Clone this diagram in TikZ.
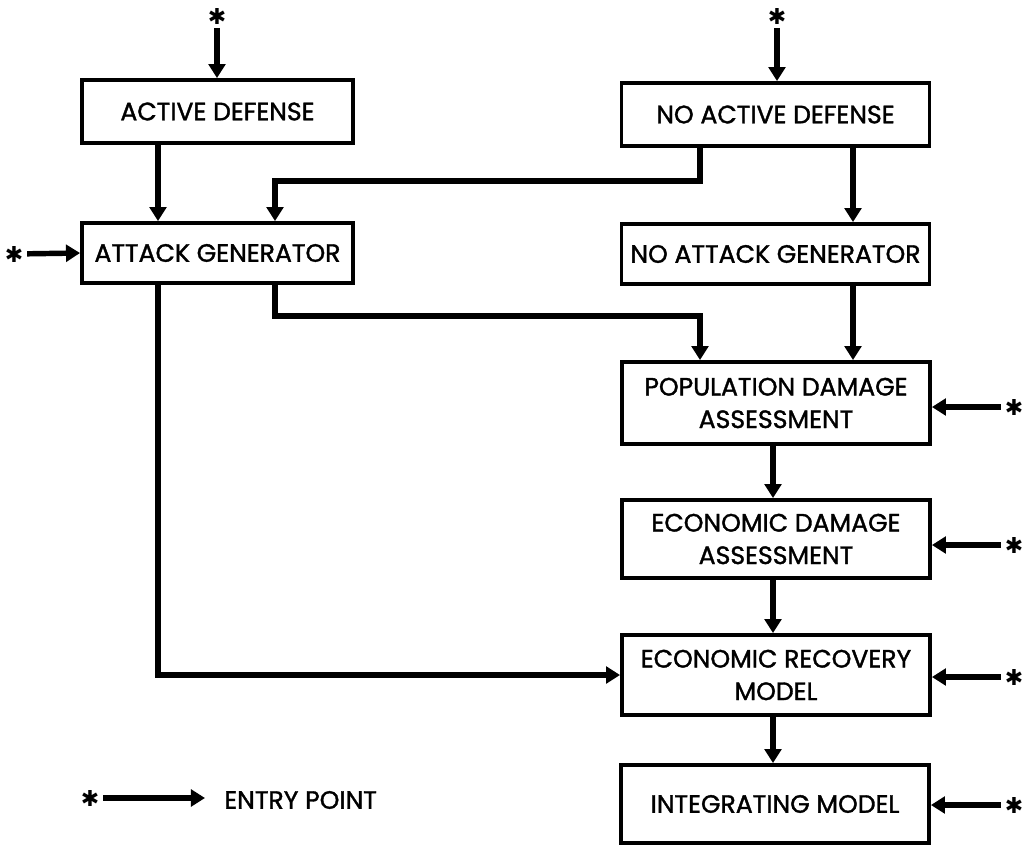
\documentclass[tikz,border=0pt]{standalone}
\usepackage{fontspec}
\setmainfont{Poppins}[FakeBold=1.4]
\newfontfamily\symfont{DejaVu Sans}
\usetikzlibrary{arrows.meta}
\begin{document}
\begin{tikzpicture}[x=0.02cm,y=-0.02cm,
  lab/.style={font=\fontsize{14.3}{18.5}\selectfont},
  blk/.style={draw,line width=2.2pt,minimum width=271*0.02cm,inner sep=0pt,
    lab,align=center},
  wide/.style={blk,minimum width=308*0.02cm},
  flow/.style={line width=3.1pt,-{Triangle[length=8pt,width=9.5pt]}},
  entry/.style={font=\symfont\fontsize{12.5}{12.5}\selectfont,inner sep=2pt}]
\useasboundingbox (0,0) rectangle (1022,846);

% boxes
\node[blk,minimum height=63*0.02cm] (ad) at (217.5,111.5) {ACTIVE DEFENSE};
\node[blk,minimum height=60*0.02cm] (ag) at (217.5,253) {ATTACK GENERATOR};
\node[wide,minimum height=63*0.02cm] (nad) at (775.5,114.5) {NO ACTIVE DEFENSE};
\node[wide,minimum height=60*0.02cm] (nag) at (775.5,254) {NO ATTACK GENERATOR};
\node[wide,minimum height=82*0.02cm] (pda) at (776,403) {POPULATION DAMAGE\\ASSESSMENT};
\node[wide,minimum height=78*0.02cm] (eda) at (776,539) {ECONOMIC DAMAGE\\ASSESSMENT};
\node[wide,minimum height=80*0.02cm] (erm) at (776,675) {ECONOMIC RECOVERY\\MODEL};
\node[wide,minimum height=78*0.02cm] (im) at (775,804) {INTEGRATING MODEL};

% column positions of the connectors
\coordinate (xa) at (158,0);
\coordinate (xb) at (275,0);
\coordinate (xc) at (700,0);
\coordinate (xd) at (853,0);
\coordinate (xe) at (773,0);
\coordinate (ya) at (0,181);
\coordinate (yb) at (0,316);

% entry points
\node[entry] (s1) at (217,16) {✱};
\node[entry] (s2) at (777,16) {✱};
\node[entry] (s3) at (14,254) {✱};
\node[entry] (s4) at (1014,407) {✱};
\node[entry] (s5) at (1014,545) {✱};
\node[entry] (s6) at (1014,677) {✱};
\node[entry] (s7) at (1014,805) {✱};
\draw[flow] (s1) -- (ad.north -| s1);
\draw[flow] (s2) -- (nad.north -| s2);
\draw[flow] (s3) -- (ag.west);
\draw[flow] (s4) -- (pda.east |- s4);
\draw[flow] (s5) -- (eda.east |- s5);
\draw[flow] (s6) -- (erm.east |- s6);
\draw[flow] (s7) -- (im.east |- s7);

% flow between the models
\draw[flow] (ad.south -| xa) -- (ag.north -| xa);
\draw[flow] (nad.south -| xc) |- (xb |- ya) -- (ag.north -| xb);
\draw[flow] (nad.south -| xd) -- (nag.north -| xd);
\draw[flow] (ag.south -| xb) |- (xc |- yb) -- (pda.north -| xc);
\draw[flow] (nag.south -| xd) -- (pda.north -| xd);
\draw[flow] (pda.south -| xe) -- (eda.north -| xe);
\draw[flow] (eda.south -| xe) -- (erm.north -| xe);
\draw[flow] (erm.south -| xe) -- (im.north -| xe);
\draw[flow] (ag.south -| xa) |- (erm.west);

% legend
\node[entry] (ls) at (90,798) {✱};
\coordinate (le) at (205,798);
\draw[flow] (ls) -- (le);
\node[anchor=west,inner sep=0pt,lab] (lt) at (224,800) {ENTRY POINT};
\end{tikzpicture}
\end{document}
